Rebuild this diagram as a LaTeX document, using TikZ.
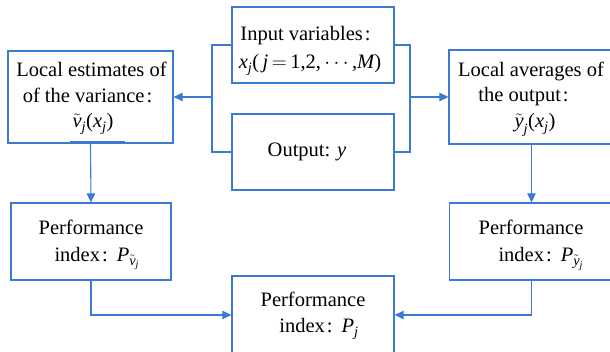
\documentclass[tikz,border=0pt]{standalone}
\usepackage{amsmath}
\usepackage{fontspec}
\setmainfont{Liberation Serif}
\usetikzlibrary{arrows.meta}
\definecolor{lblue}{RGB}{58,122,212}
\newcommand{\fc}{\kern2pt:\kern9pt}
\newcommand{\mi}[1]{\textit{#1}}
\newcommand{\mr}[1]{\textup{#1}}
\tikzset{
  box/.style={draw=lblue, line width=1.3pt, rectangle, inner sep=0pt},
  conn/.style={draw=lblue, line width=1.1pt},
  arr/.style={conn, -{Triangle[length=9pt,width=8.5pt]}},
  txt/.style={anchor=base, inner sep=0pt, font=\fontsize{20.5}{24}\selectfont},
}
\begin{document}
\begin{tikzpicture}[x=1pt,y=-1pt]
\useasboundingbox (0,0) rectangle (610,352);
\begin{scope}
\clip (0,0) rectangle (610,352);
% boxes
\node[box, minimum width=162pt, minimum height=76pt] (in) at (313,45) {};
\node[box, minimum width=162pt, minimum height=76pt] (out) at (313,152) {};
\node[box, minimum width=165pt, minimum height=92pt] (lest) at (90.5,97) {};
\node[box, minimum width=165pt, minimum height=94pt] (ravg) at (531.5,97) {};
\node[box, minimum width=160pt, minimum height=77pt] (perfL) at (91,241.5) {};
\node[box, minimum width=164pt, minimum height=77pt] (perfR) at (531.5,241.5) {};
\node[box, minimum width=162pt, minimum height=78pt] (bot) at (313,315) {};
% texts
\node[txt] (inA) at (310,41) {Input variables\fc};
\node[txt] (inB) at (310,69) {$\mi{x}_{\mi{j}}\mr{(}\,\mi{j}\,{=}\,\mr{1,2,}\cdots\mr{,}\mi{M}\mr{)}$};
\node[txt] (outA) at (307,157) {Output: \mi{y}};
\node[txt] (lA) at (91.5,77) {Local estimates of};
\node[txt] (lB) at (92,103) {of the variance\fc};
\node[txt] (lC) at (93,128) {$\tilde{\mi{v}}_{\mi{j}}\mr{(}\mi{x}_{\mi{j}}\mr{)}$};
\node[txt] (rA) at (531,77) {Local averages of};
\node[txt] (rB) at (528,102) {the output\fc};
\node[txt] (rC) at (535,128) {$\tilde{\mi{y}}_{\mi{j}}\mr{(}\mi{x}_{\mi{j}}\mr{)}$};
\node[txt] (pLA) at (91,235) {Performance};
\node[txt] (pLB) at (97,262) {index\fc$\mi{P}_{\tilde{\mi{v}}_{\mi{j}}}$};
\node[txt] (pRA) at (531,235) {Performance};
\node[txt] (pRB) at (541,262) {index\fc$\mi{P}_{\tilde{\mi{y}}_{\mi{j}}}$};
\node[txt] (bA) at (313,307) {Performance};
\node[txt] (bB) at (319,333) {index\fc$\mi{P}_{\mi{j}}$};
% small underline below the estimate
\draw[conn, line width=1pt] (70,141.5) -- (125,141.5);
% connectors
\coordinate (bl) at (212,97);
\coordinate (br) at (410,97);
\draw[conn] (in.west) -| (bl);
\draw[conn] (out.west) -| (bl);
\draw[arr] (bl) -- (lest.east);
\draw[conn] (in.east) -| (br);
\draw[conn] (out.east) -| (br);
\draw[arr] (br) -- (ravg.west);
\draw[arr] (lest.south) -- (perfL.north);
\draw[arr] (ravg.south) -- (perfR.north);
\draw[arr] (perfL.south) |- (bot.west);
\draw[arr] (perfR.south) |- (bot.east);
\end{scope}
\end{tikzpicture}
\end{document}
